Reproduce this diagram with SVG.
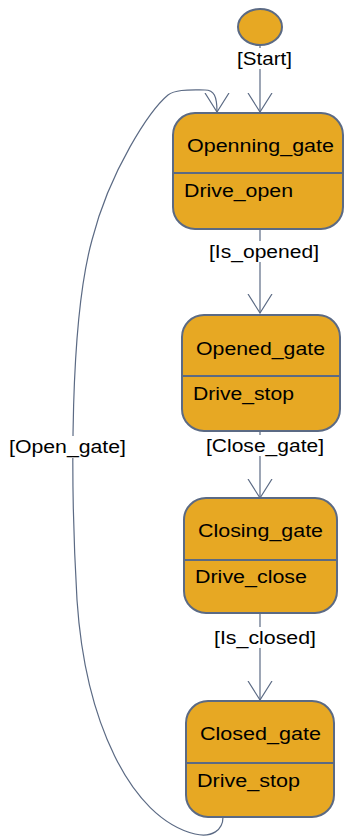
<svg xmlns="http://www.w3.org/2000/svg" width="344" height="836" viewBox="0 0 344 836">
<defs>
<style>
.st{fill:#E7A823;stroke:#5B6A84;stroke-width:2}
.dv{stroke:#5B6A84;stroke-width:2}
.t{font-family:"Liberation Sans",Arial,sans-serif;font-size:17.5px;fill:#000}
.c{fill:none;stroke:#5B6A84;stroke-width:1.2;marker-end:url(#ah)}
.lb{fill:#fff}
</style>
<marker id="ah" viewBox="0 0 20 26" refX="19" refY="13" markerWidth="20" markerHeight="26" markerUnits="userSpaceOnUse" orient="auto">
<path d="M0,1 L19,13 L0,25" fill="none" stroke="#5B6A84" stroke-width="1.2"/>
</marker>
</defs>
<g id="connectors">
<path class="c" d="M260,45 L260,112"/>
<path class="c" d="M260,229 L260,313"/>
<path class="c" d="M260,431 L260,498"/>
<path class="c" d="M260,613 L260,700"/>
<path class="c" d="M223,817 C223,830 212,838 195,834 C130,818 85,720 77,600 C70,480 70,320 92,240 C110,170 150,110 168,95 C176,89 190,90 205,90 C214,90 217,96 217,112"/>
<rect class="lb" x="236" y="48" width="58" height="21"/>
<text class="t" x="237" y="65" textLength="55" lengthAdjust="spacingAndGlyphs">[Start]</text>
<rect class="lb" x="207" y="241" width="114" height="21"/>
<text class="t" x="209" y="258" textLength="110" lengthAdjust="spacingAndGlyphs">[Is_opened]</text>
<rect class="lb" x="204" y="435" width="122" height="21"/>
<text class="t" x="206" y="452" textLength="118" lengthAdjust="spacingAndGlyphs">[Close_gate]</text>
<rect class="lb" x="212" y="627" width="106" height="21"/>
<text class="t" x="214" y="644" textLength="102" lengthAdjust="spacingAndGlyphs">[Is_closed]</text>
<rect class="lb" x="7" y="436" width="121" height="22"/>
<text class="t" x="9" y="453" textLength="117" lengthAdjust="spacingAndGlyphs">[Open_gate]</text>
</g>
<g id="start">
<ellipse class="st" cx="260" cy="27" rx="22" ry="18"/>
</g>
<g id="Openning_gate">
<rect class="st" x="173" y="113" width="170" height="116" rx="22"/>
<line class="dv" x1="173" y1="173" x2="343" y2="173"/>
<text class="t" x="187" y="152" textLength="147" lengthAdjust="spacingAndGlyphs">Openning_gate</text>
<text class="t" x="184" y="197" textLength="109" lengthAdjust="spacingAndGlyphs">Drive_open</text>
</g>
<g id="Opened_gate">
<rect class="st" x="182" y="315" width="158" height="116" rx="22"/>
<line class="dv" x1="182" y1="376" x2="340" y2="376"/>
<text class="t" x="196" y="355" textLength="129" lengthAdjust="spacingAndGlyphs">Opened_gate</text>
<text class="t" x="193" y="400" textLength="101" lengthAdjust="spacingAndGlyphs">Drive_stop</text>
</g>
<g id="Closing_gate">
<rect class="st" x="184" y="498" width="153" height="115" rx="22"/>
<line class="dv" x1="184" y1="560" x2="337" y2="560"/>
<text class="t" x="198" y="537" textLength="125" lengthAdjust="spacingAndGlyphs">Closing_gate</text>
<text class="t" x="195" y="583" textLength="112" lengthAdjust="spacingAndGlyphs">Drive_close</text>
</g>
<g id="Closed_gate">
<rect class="st" x="186" y="701" width="148" height="116" rx="22"/>
<line class="dv" x1="186" y1="763" x2="334" y2="763"/>
<text class="t" x="200" y="740" textLength="121" lengthAdjust="spacingAndGlyphs">Closed_gate</text>
<text class="t" x="197" y="787" textLength="103" lengthAdjust="spacingAndGlyphs">Drive_stop</text>
</g>
</svg>
